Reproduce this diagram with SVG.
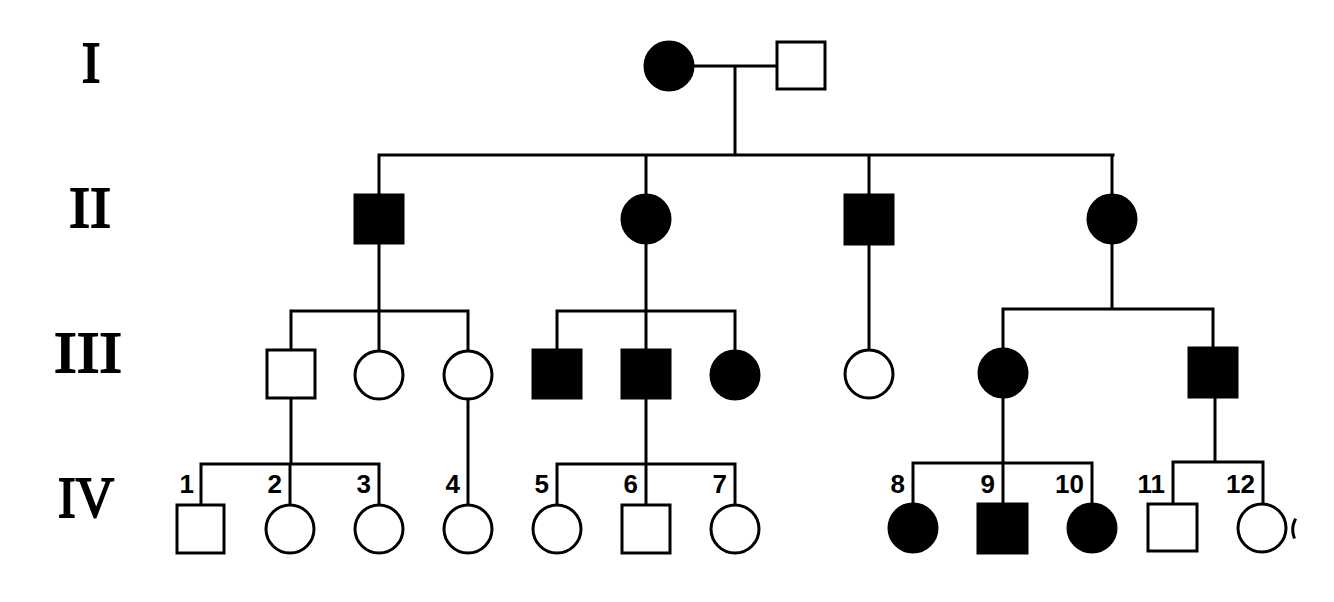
<svg xmlns="http://www.w3.org/2000/svg" width="1334" height="602" viewBox="0 0 1334 602">
<style>
.ln{stroke:#000;stroke-width:3;fill:none;stroke-linecap:square}
.open{fill:#fff;stroke:#000;stroke-width:3}
.aff{fill:#000;stroke:#000;stroke-width:3}
.gen{font-family:"Liberation Serif",serif;font-size:56px;fill:#000;stroke:#000;stroke-width:1.8;text-anchor:middle}
.num{font-family:"Liberation Sans",Arial,sans-serif;font-size:26px;font-weight:bold;fill:#000;text-anchor:end}
</style>
<rect width="1334" height="602" fill="#fff"/>
<g id="generation-labels">
<text class="gen" x="91" y="82">I</text>
<text class="gen" x="90" y="227" textLength="42" lengthAdjust="spacingAndGlyphs">II</text>
<text class="gen" x="88" y="372" textLength="68" lengthAdjust="spacingAndGlyphs">III</text>
<text class="gen" x="86" y="517" textLength="56" lengthAdjust="spacingAndGlyphs">IV</text>
</g>
<g id="connectors">
<path class="ln" d="M694,66H777M735,66V155M379,155H1113M379,155V195M646,155V194M869,155V195M1112,155V194"/>
<path class="ln" d="M379,243V311M291,311H468M291,311V350M379,311V350M468,311V350"/>
<path class="ln" d="M646,244V311M557,311H735M557,311V350M646,311V350M735,311V350"/>
<path class="ln" d="M869,244V349"/>
<path class="ln" d="M1112,244V309M1003,309H1213M1003,309V348M1213,309V348"/>
<path class="ln" d="M291,398V464M201,464H379M201,464V505M290,464V504M379,464V504"/>
<path class="ln" d="M468,400V504"/>
<path class="ln" d="M646,398V464M557,464H735M557,464V504M646,464V505M735,464V504"/>
<path class="ln" d="M1003,398V463M913,463H1092M913,463V503M1003,463V504M1092,463V503"/>
<path class="ln" d="M1215,398V462M1173,462H1263M1173,462V504M1263,462V503"/>
</g>
<g id="I-1"><circle class="aff" cx="669" cy="66" r="24"/></g>
<g id="I-2"><rect class="open" x="777" y="42" width="48" height="47"/></g>
<g id="II-1"><rect class="aff" x="355" y="195" width="48" height="48"/></g>
<g id="II-2"><circle class="aff" cx="646" cy="219" r="24"/></g>
<g id="II-3"><rect class="aff" x="845" y="195" width="48" height="49"/></g>
<g id="II-4"><circle class="aff" cx="1112" cy="219" r="24"/></g>
<g id="III-1"><rect class="open" x="267" y="350" width="48" height="48"/></g>
<g id="III-2"><circle class="open" cx="379" cy="375" r="24"/></g>
<g id="III-3"><circle class="open" cx="468" cy="375" r="24"/></g>
<g id="III-4"><rect class="aff" x="533" y="350" width="48" height="48"/></g>
<g id="III-5"><rect class="aff" x="622" y="350" width="48" height="48"/></g>
<g id="III-6"><circle class="aff" cx="735" cy="375" r="24"/></g>
<g id="III-7"><circle class="open" cx="869" cy="374" r="24"/></g>
<g id="III-8"><circle class="aff" cx="1003" cy="373" r="24"/></g>
<g id="III-9"><rect class="aff" x="1189" y="348" width="48" height="49"/></g>
<g id="IV-1"><rect class="open" x="177" y="505" width="47" height="48"/><text class="num" x="194" y="493">1</text></g>
<g id="IV-2"><circle class="open" cx="290" cy="529" r="24"/><text class="num" x="282" y="493">2</text></g>
<g id="IV-3"><circle class="open" cx="379" cy="529" r="24"/><text class="num" x="371" y="493">3</text></g>
<g id="IV-4"><circle class="open" cx="468" cy="529" r="24"/><text class="num" x="460" y="493">4</text></g>
<g id="IV-5"><circle class="open" cx="557" cy="529" r="24"/><text class="num" x="549" y="493">5</text></g>
<g id="IV-6"><rect class="open" x="622" y="505" width="48" height="48"/><text class="num" x="638" y="493">6</text></g>
<g id="IV-7"><circle class="open" cx="735" cy="529" r="24"/><text class="num" x="727" y="493">7</text></g>
<g id="IV-8"><circle class="aff" cx="913" cy="528" r="24"/><text class="num" x="905" y="493">8</text></g>
<g id="IV-9"><rect class="aff" x="978" y="504" width="49" height="49"/><text class="num" x="995" y="493">9</text></g>
<g id="IV-10"><circle class="aff" cx="1092" cy="528" r="24"/><text class="num" x="1084" y="493">10</text></g>
<g id="IV-11"><rect class="open" x="1148" y="504" width="49" height="47"/><text class="num" x="1165" y="493">11</text></g>
<g id="IV-12"><circle class="open" cx="1262" cy="528" r="24"/><text class="num" x="1255" y="493">12</text></g>
<g id="edge-fragment"><path class="ln" d="M1295,520A22,22 0 0 0 1294,537"/></g>
</svg>
